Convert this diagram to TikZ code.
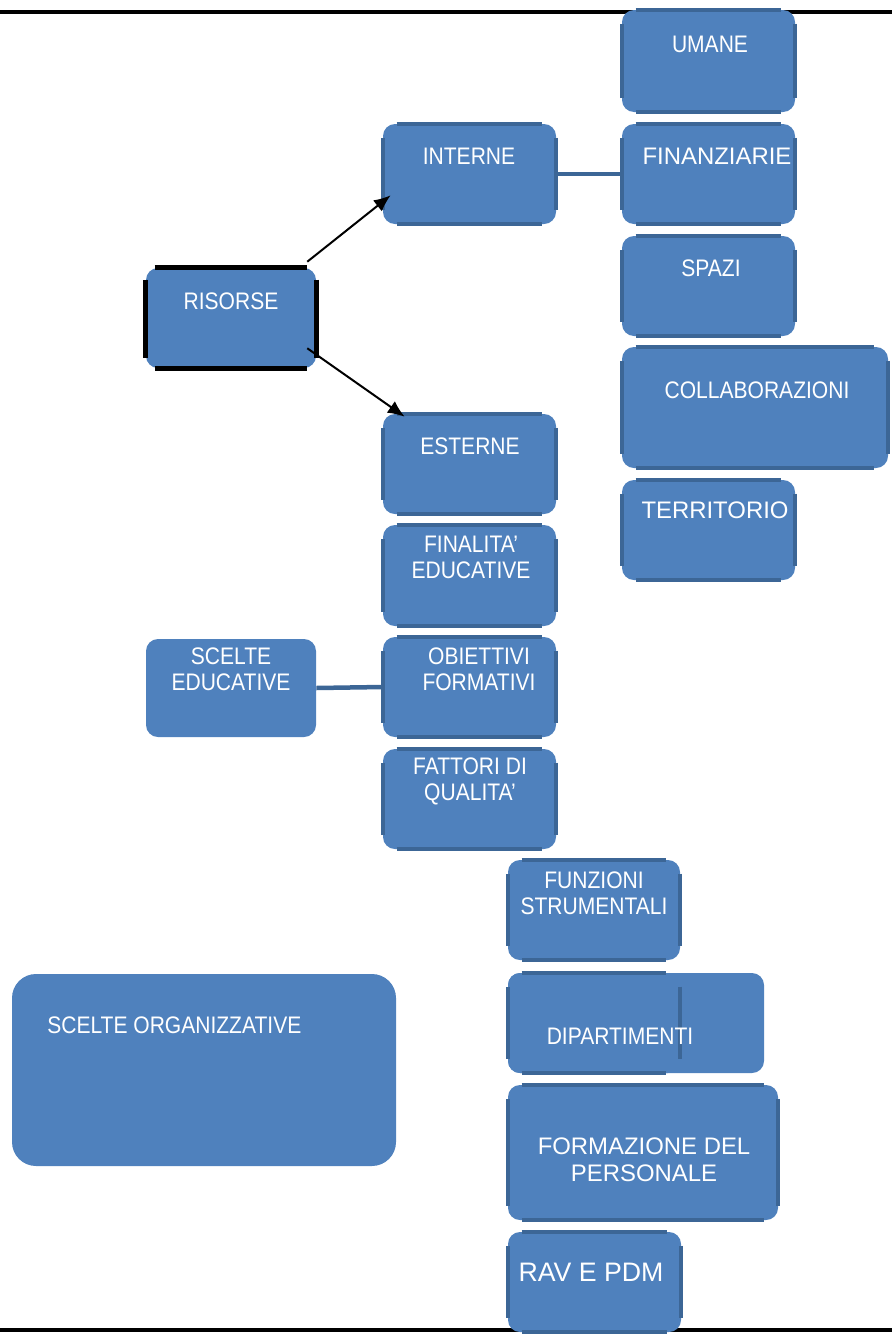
\documentclass[tikz,border=0pt]{standalone}
\usepackage{fontspec}
\setmainfont{Liberation Sans}
\newfontfamily\narrowsans{Liberation Sans}[FakeStretch=0.88]
\usetikzlibrary{arrows.meta}
\definecolor{boxblue}{HTML}{4F81BD}
\definecolor{edgeblue}{HTML}{3C6696}
\newlength\pxu
\setlength\pxu{0.025cm}

\tikzset{
  box/.style={draw=none, fill=boxblue, rounded corners=12\pxu, inner sep=0pt},
  boxedge/.style={edgeblue, line width=4\pxu},
  blackedge/.style={black, line width=5\pxu},
  txt/.style={text=white, align=center, font=\narrowsans\fontsize{17}{18.5}\selectfont, inner sep=0pt},
  widetxt/.style={txt, font=\fontsize{17}{19}\selectfont},
  link/.style={edgeblue, line width=4.5\pxu},
  arrow/.style={black, line width=2\pxu, -{Latex[length=12pt, width=10pt]}},
  rule/.style={black, line width=4\pxu},
}

\begin{document}
\begin{tikzpicture}[x=0.025cm, y=-0.025cm]
    \useasboundingbox (0,0) rectangle (892,1342);
    \draw[rule] (0,12) -- (892,12);
    \draw[rule] (0,1330) -- (892,1330);
    % risorse
    \node[box, minimum width=173\pxu, minimum height=102\pxu] (umane) at (708.5,61) {};
    \node[box, minimum width=173\pxu, minimum height=100\pxu] (interne) at (469.5,174) {};
    \node[box, minimum width=173\pxu, minimum height=100\pxu] (finanz) at (708.5,174) {};
    \node[box, minimum width=173\pxu, minimum height=100\pxu] (spazi) at (708.5,286) {};
    \node[box, minimum width=170\pxu, minimum height=100\pxu] (risorse) at (231,318) {};
    \node[box, minimum width=266\pxu, minimum height=121\pxu] (collab) at (755,407.5) {};
    \node[box, minimum width=173\pxu, minimum height=100\pxu] (esterne) at (469.5,464) {};
    \node[box, minimum width=173\pxu, minimum height=100\pxu] (territorio) at (708.5,530) {};
    % scelte educative
    \node[box, minimum width=173\pxu, minimum height=101\pxu] (finalita) at (469.5,575.5) {};
    \node[box, minimum width=170\pxu, minimum height=98\pxu] (sceltedu) at (231,688) {};
    \node[box, minimum width=173\pxu, minimum height=100\pxu] (obiettivi) at (469.5,687) {};
    \node[box, minimum width=173\pxu, minimum height=100\pxu] (fattori) at (469.5,799) {};
    % scelte organizzative
    \node[box, minimum width=172\pxu, minimum height=100\pxu] (funzioni) at (594,910) {};
    \node[box, minimum width=256\pxu, minimum height=100\pxu] (dip) at (636,1023) {};
    \node[box, minimum width=172\pxu, minimum height=100\pxu] (dipin) at (594,1023) {};
    \node[box, rounded corners=24\pxu, minimum width=384\pxu, minimum height=192\pxu] (sceltorg) at (204,1070) {};
    \node[box, minimum width=270\pxu, minimum height=135\pxu] (formazione) at (643,1152.5) {};
    \node[box, minimum width=173\pxu, minimum height=100\pxu] (rav) at (594.5,1282) {};

    \foreach \n in {umane,interne,finanz,spazi,collab,esterne,territorio,finalita,obiettivi,fattori,funzioni,dipin,formazione,rav} {
      \draw[boxedge] ([xshift=14\pxu]\n.north west) -- ([xshift=-14\pxu]\n.north east);
      \draw[boxedge] ([xshift=14\pxu]\n.south west) -- ([xshift=-14\pxu]\n.south east);
      \draw[boxedge] ([yshift=-14\pxu]\n.north west) -- ([yshift=14\pxu]\n.south west);
      \draw[boxedge] ([yshift=-14\pxu]\n.north east) -- ([yshift=14\pxu]\n.south east);
    }
    \draw[blackedge] ([xshift=9\pxu]risorse.north west) -- ([xshift=-9\pxu]risorse.north east);
    \draw[blackedge] ([xshift=9\pxu]risorse.south west) -- ([xshift=-9\pxu]risorse.south east);
    \draw[blackedge] ([yshift=-12\pxu]risorse.north west) -- ([yshift=10\pxu]risorse.south west);
    \draw[blackedge] ([yshift=-12\pxu]risorse.north east) -- ([yshift=10\pxu]risorse.south east);

    \draw[link] (interne.east) -- (finanz.west);
    \draw[link] (sceltedu.east) -- (obiettivi.west);
    \draw[arrow] ([xshift=-9\pxu, yshift=6\pxu]risorse.north east) -- ([xshift=8\pxu, yshift=29\pxu]interne.south west);
    \draw[arrow] ([xshift=-9\pxu, yshift=20\pxu]risorse.south east) -- ([xshift=22\pxu, yshift=-3\pxu]esterne.north west);

    \node[txt] (umane-t) at (710,44) {UMANE};
    \node[txt] (interne-t) at (469,156) {INTERNE};
    \node[widetxt] (finanz-t) at (717,156) {FINANZIARIE};
    \node[txt] (spazi-t) at (711,268) {SPAZI};
    \node[txt] (risorse-t) at (231,301) {RISORSE};
    \node[txt] (collab-t) at (757,390) {COLLABORAZIONI};
    \node[txt] (esterne-t) at (470,446) {ESTERNE};
    \node[widetxt] (territorio-t) at (715,510) {TERRITORIO};
    \node[txt] (finalita-t) at (471,557.5) {FINALITA’\\EDUCATIVE};
    \node[txt] (sceltedu-t) at (231,669) {SCELTE\\EDUCATIVE};
    \node[txt] (obiettivi-t) at (479,669) {OBIETTIVI\\FORMATIVI};
    \node[txt] (fattori-t) at (470,781) {FATTORI DI\\QUALITA’};
    \node[txt] (funzioni-t) at (594,893) {FUNZIONI\\STRUMENTALI};
    \node[txt] (dip-t) at (620,1036) {DIPARTIMENTI};
    \node[txt, anchor=west] (sceltorg-t) at (47,1025) {SCELTE ORGANIZZATIVE};
    \node[widetxt] (formazione-t) at (644,1159.5) {FORMAZIONE DEL\\PERSONALE};
    \node[widetxt, font=\fontsize{19}{22}\selectfont] (rav-t) at (591,1272) {RAV E PDM};
\end{tikzpicture}
\end{document}
